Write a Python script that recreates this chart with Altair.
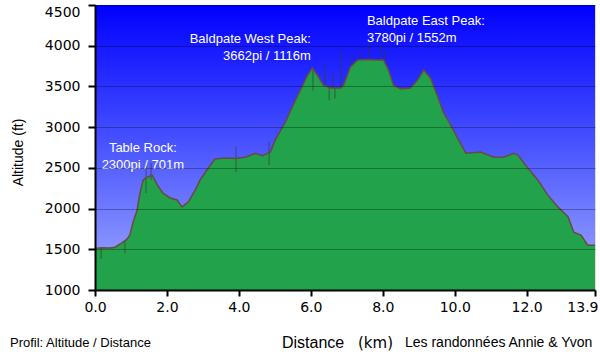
import altair as alt
import pandas as pd

# Elevation profile (km, ft)
dist_km = [0.00, 0.17, 0.42, 0.56, 0.70, 0.89, 0.97, 1.06, 1.17, 1.25, 1.34, 1.42, 1.48, 1.59,
           1.73, 1.89, 2.09, 2.28, 2.42, 2.59, 2.79, 2.92, 3.12, 3.34, 3.62, 3.90, 4.18, 4.46,
           4.65, 4.87, 5.01, 5.29, 5.57, 5.71, 5.91, 6.04, 6.18, 6.35, 6.55, 6.82, 6.91, 7.10,
           7.30, 7.58, 7.80, 8.02, 8.16, 8.30, 8.50, 8.77, 8.97, 9.14, 9.33, 9.53, 9.69, 9.81,
           10.11, 10.31, 10.72, 11.09, 11.36, 11.64, 11.75, 12.03, 12.31, 12.59, 12.87, 13.15,
           13.31, 13.51, 13.70, 13.90]
alt_ft = [1510, 1520, 1515, 1525, 1565, 1625, 1675, 1835, 1980, 2190, 2350, 2380, 2390, 2410,
          2290, 2190, 2130, 2105, 2020, 2080, 2230, 2350, 2480, 2610, 2620, 2615, 2630, 2680,
          2650, 2690, 2840, 3060, 3330, 3455, 3640, 3725, 3640, 3515, 3480, 3480, 3515, 3740,
          3825, 3830, 3825, 3825, 3700, 3515, 3470, 3480, 3580, 3700, 3600, 3370, 3175, 3090,
          2840, 2680, 2695, 2630, 2630, 2680, 2660, 2500, 2350, 2165, 2020, 1900,
          1710, 1675, 1550, 1550]

# GPS noise spikes
spike_km = [0.17, 0.83, 1.42, 1.56, 3.92, 4.84, 6.06, 6.39, 6.51, 6.62, 6.67, 6.84, 7.14,
            7.37, 7.62, 7.95, 8.06]
spike_lo = [1380, 1450, 2190, 2350, 2450, 2535, 3450, 3515, 3330, 3480, 3350, 3480, 3760,
            3825, 3830, 3825, 3800]
spike_hi = [1520, 1600, 2535, 2560, 2760, 2820, 3725, 3790, 3500, 3665, 3480, 3950, 3900,
            3970, 4030, 4010, 3950]

# Summit labels
label_text = ["Table Rock:\n2300pi / 701m",
              "Baldpate West Peak:\n3662pi / 1116m",
              "Baldpate East Peak:\n3780pi / 1552m"]
label_km = [1.33, 6.00, 7.56]
label_ft = [2695, 4033, 4254]
label_align = ["center", "right", "left"]

x_ticks = [0, 2, 4, 6, 8, 10, 12, 13.9]
y_ticks = [1000, 1500, 2000, 2500, 3000, 3500, 4000, 4500]
x_range = [0, 13.9]
y_range = [1000, 4500]

profile = pd.DataFrame({"km": dist_km, "ft": alt_ft})
spikes = pd.DataFrame({"km": spike_km, "lo": spike_lo, "hi": spike_hi})
labels = pd.DataFrame({"km": label_km, "ft": label_ft, "text": label_text, "align": label_align})
sky_df = pd.DataFrame({"km": x_range, "top": [y_range[1], y_range[1]]})

xscale = alt.Scale(domain=x_range, nice=False, zero=False)
yscale = alt.Scale(domain=y_range, nice=False, zero=False)

xaxis = alt.Axis(values=x_ticks, format=".1f", title=None, grid=False,
                 domainColor="black", domainWidth=2, tickColor="black", tickWidth=2,
                 tickSize=6, labelFont="DejaVu Sans", labelFontSize=14, labelColor="black",
                 labelPadding=4, labelOverlap=False, labelBound=False, labelFlush=False,
                 labelAlign=alt.condition("datum.value > 13", alt.value("right"), alt.value("center")),
                 labelOffset=alt.condition("datum.value > 13", alt.value(3), alt.value(0)),
                 zindex=1)
yaxis = alt.Axis(values=y_ticks, format="d", title="Altitude (ft)", grid=True,
                 gridColor="#000000", gridOpacity=0.3, gridWidth=1,
                 domainColor="black", domainWidth=2, tickColor="black", tickWidth=2,
                 tickSize=7, labelFont="DejaVu Sans", labelFontSize=14, labelColor="black",
                 labelPadding=8, labelOverlap=False, labelBound=False, labelFlush=False,
                 labelBaseline=alt.condition("datum.value >= 4500", alt.value("top"), alt.value("middle")),
                 titleFont="Liberation Sans", titleFontSize=14, titleFontWeight="normal",
                 titleColor="black", titleAngle=270, titleX=-77, titleY=147,
                 titleAlign="center", titleBaseline="middle", zindex=1)

sky = alt.Gradient(gradient="linear", x1=0, y1=0, x2=0, y2=1,
                   stops=[alt.GradientStop(color="#0000ff", offset=0),
                          alt.GradientStop(color="#4a55ff", offset=0.5),
                          alt.GradientStop(color="#a2acff", offset=1)])

bg = alt.Chart(sky_df).mark_area(color=sky, opacity=1).encode(
    x=alt.X("km:Q", scale=xscale, axis=xaxis),
    y=alt.Y("top:Q", scale=yscale, axis=yaxis),
    y2=alt.datum(y_range[0]),
)

area = alt.Chart(profile).mark_area(color="#22a24a", opacity=1).encode(
    x=alt.X("km:Q", scale=xscale, axis=xaxis),
    y=alt.Y("ft:Q", scale=yscale, axis=yaxis),
    y2=alt.datum(y_range[0]),
)

spk = alt.Chart(spikes).mark_rule(color="#3a3a3a", opacity=0.45, strokeWidth=1.5).encode(
    x="km:Q", y="lo:Q", y2="hi:Q")

line = alt.Chart(profile).mark_line(color="#6a4a40", strokeWidth=1.5).encode(
    x="km:Q", y="ft:Q")

lab_layers = []
for al in ["center", "right", "left"]:
    lab_layers.append(
        alt.Chart(labels[labels["align"] == al]).mark_text(
            align=al, baseline="alphabetic", color="white", font="Liberation Sans",
            fontSize=13, lineBreak="\n", lineHeight=17).encode(
            x="km:Q", y="ft:Q", text="text:N"))

def txt(s, x, y, font, size, align="left"):
    return alt.Chart(pd.DataFrame({"t": [s]})).mark_text(
        align=align, baseline="alphabetic", color="black", font=font, fontSize=size).encode(
        x=alt.value(x), y=alt.value(y), text="t:N")

bottom = [
    txt("Profil: Altitude / Distance", -85, 342, "Liberation Sans", 13),
    txt("Distance", 187, 343, "Liberation Sans", 16),
    txt("(km)", 263, 343, "DejaVu Sans", 15),
    txt("Les randonnées Annie & Yvon", 310, 342, "Liberation Sans", 14),
]

chart = alt.layer(bg, area, spk, line, *lab_layers, *bottom).properties(
    width=500, height=285,
    autosize=alt.AutoSizeParams(type="none"),
    padding={"left": 95, "top": 5, "right": 5, "bottom": 64},
).configure_view(stroke="#a8c8b0", strokeWidth=1).configure(background="white")

chart.save("out.html", embed_options={"renderer": "svg", "actions": False})
